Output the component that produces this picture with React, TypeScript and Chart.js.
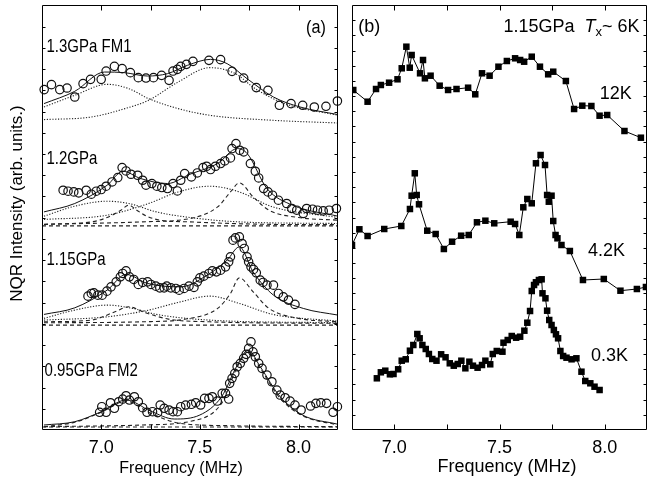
import React, { useEffect, useRef } from 'react';
import { Chart, registerables } from 'chart.js';

Chart.register(...registerables);

type P = [number, number];

// ---------------- axes ----------------
const freqTickValues = [7.0, 7.25, 7.5, 7.75, 8.0];
const freqTickLabels = ['7.0', '7.5', '8.0'];

// ---------------- data: panel (a) ----------------
const spec130: P[] = [
  [6.711, 340.7], [6.748, 345.7], [6.79, 340.7], [6.827, 342.3], [6.866, 333.3], [6.908, 346.7],
  [6.946, 351], [7.0, 351], [7.025, 359.3], [7.067, 364], [7.106, 361.7], [7.148, 357.7],
  [7.188, 352.7], [7.227, 352.3], [7.265, 352.7], [7.306, 355], [7.344, 350], [7.364, 359.3],
  [7.386, 361], [7.403, 364], [7.432, 366], [7.465, 369], [7.546, 370], [7.605, 370.7],
  [7.663, 359], [7.722, 352.3], [7.786, 342.7], [7.845, 340], [7.903, 325], [7.962, 326.7],
  [8.021, 325], [8.08, 323.3], [8.139, 324], [8.197, 329.3],
];
const fit130Sum: P[] = [
  [6.71, 326.7], [6.866, 339], [7.017, 358.3], [7.117, 357.7], [7.235, 354.3], [7.336, 356.7],
  [7.437, 365], [7.554, 371], [7.638, 366.7], [7.739, 351.7], [7.873, 333.3], [8.008, 323.3], [8.2, 315.7],
];
const fit130A: P[] = [
  [6.71, 323.3], [6.866, 335], [7.03, 346], [7.14, 341.7], [7.24, 331.7], [7.39, 321.7],
  [7.55, 315], [7.87, 310], [8.2, 307.3],
];
const fit130B: P[] = [
  [6.71, 310.7], [6.95, 313.3], [7.12, 321.7], [7.24, 330], [7.39, 348.3], [7.55, 362.7],
  [7.68, 356.7], [7.78, 341.7], [7.93, 326.7], [8.2, 315],
];

const spec120: P[] = [
  [6.807, 240], [6.832, 239], [6.861, 238.3], [6.886, 237.3], [6.924, 240], [6.95, 236],
  [6.975, 239], [7.0, 240.7], [7.025, 244], [7.055, 248.3], [7.084, 252.7], [7.106, 262.7],
  [7.126, 259.3], [7.151, 256], [7.185, 255], [7.21, 250], [7.227, 245], [7.257, 246.7],
  [7.282, 244], [7.307, 242.7], [7.336, 241.7], [7.364, 246.7], [7.386, 239.3], [7.403, 250],
  [7.423, 256.7], [7.457, 253.3], [7.487, 257.3], [7.516, 262.7], [7.534, 264], [7.554, 260.7],
  [7.579, 264], [7.605, 266.7], [7.626, 269.3], [7.655, 272.3], [7.663, 281.7], [7.683, 286.7],
  [7.702, 280], [7.722, 278.3], [7.756, 266.7], [7.781, 259], [7.798, 252.3], [7.823, 241.7],
  [7.845, 238.3], [7.868, 235], [7.898, 230], [7.94, 226.7], [7.966, 221.7], [7.991, 220],
  [8.024, 216.7], [8.041, 221.7], [8.071, 221], [8.096, 220], [8.125, 219.3], [8.155, 220], [8.192, 221.7],
];
const fit120Sum: P[] = [
  [6.71, 218.3], [6.866, 226.7], [7.03, 245], [7.11, 259], [7.2, 251.7], [7.336, 246.7],
  [7.45, 256], [7.59, 266.7], [7.69, 281.7], [7.74, 276.7], [7.84, 241.7], [7.97, 225], [8.2, 214],
];
const fit120DotA: P[] = [
  [6.71, 214], [6.866, 224], [7.03, 229], [7.14, 226.7], [7.28, 218.3], [7.45, 212.7], [7.7, 208.3], [8.2, 206.7],
];
const fit120DashA: P[] = [
  [6.71, 206], [6.95, 208.3], [7.03, 212.7], [7.1, 220], [7.14, 225], [7.18, 220], [7.23, 214],
  [7.3, 210], [7.45, 208.3], [7.8, 206], [8.2, 205.5],
];
const fit120DotB: P[] = [
  [6.71, 210.7], [7.03, 215], [7.24, 226.7], [7.39, 238.3], [7.55, 244], [7.7, 238.3], [7.87, 223.3], [8.2, 212.7],
];
const fit120DashB: P[] = [
  [6.71, 205.7], [7.2, 208.3], [7.45, 211.7], [7.59, 223.3], [7.655, 238.3], [7.7, 247.3],
  [7.77, 233.3], [7.85, 220], [8.0, 212.7], [8.2, 210],
];
const base120 = 204.3;

const spec115: P[] = [
  [6.933, 134], [6.95, 136.7], [6.963, 137.3], [6.983, 135], [7.005, 135], [7.029, 139],
  [7.05, 143.3], [7.076, 148.3], [7.097, 153.3], [7.109, 156.7], [7.126, 159.3], [7.143, 153.3],
  [7.165, 150.7], [7.188, 145.7], [7.21, 147.7], [7.235, 148.3], [7.252, 145.7], [7.277, 144],
  [7.297, 142.3], [7.319, 142.3], [7.332, 144], [7.353, 142.3], [7.378, 141.7], [7.395, 140],
  [7.42, 141.7], [7.445, 144], [7.47, 142.7], [7.487, 148.3], [7.5, 152.3], [7.52, 154],
  [7.546, 156.7], [7.563, 159.3], [7.584, 158.3], [7.605, 160], [7.63, 163.3], [7.646, 168.3],
  [7.655, 173.3], [7.668, 190], [7.68, 192.3], [7.7, 193.3], [7.714, 186.7], [7.725, 181.7],
  [7.739, 173.3], [7.747, 168.3], [7.759, 163.3], [7.772, 160.7], [7.786, 157.3], [7.806, 150],
  [7.82, 147.7], [7.84, 145], [7.873, 145], [7.898, 136.7], [7.923, 133.3], [7.949, 130], [7.982, 125.7],
];
const fit115Sum: P[] = [
  [6.71, 115.7], [6.866, 122.3], [7.03, 140], [7.126, 155.7], [7.235, 146.7], [7.403, 143.3],
  [7.537, 155], [7.638, 170], [7.7, 183.3], [7.77, 158.3], [7.873, 135], [8.024, 121.7], [8.2, 115],
];
const fit115DotA: P[] = [
  [6.71, 111.7], [6.866, 120], [7.03, 125], [7.16, 121.7], [7.28, 115.7], [7.55, 110], [8.2, 107.3],
];
const fit115DashA: P[] = [
  [6.71, 108.3], [6.95, 110], [7.07, 118.3], [7.14, 123.3], [7.22, 117.7], [7.34, 111], [7.55, 108.3], [8.2, 106.7],
];
const fit115DotB: P[] = [
  [6.71, 110], [7.03, 113.3], [7.24, 120], [7.39, 127.7], [7.55, 134], [7.7, 126.7], [7.87, 115.7], [8.2, 109],
];
const fit115DashB: P[] = [
  [6.71, 107.3], [7.2, 108.3], [7.45, 111.7], [7.59, 121.7], [7.655, 136.7], [7.7, 152.3],
  [7.77, 138.3], [7.85, 121.7], [8.0, 111.7], [8.2, 108.3],
];
const base115 = 105;

const spec095: P[] = [
  [6.992, 17.7], [7.003, 23.3], [7.025, 17.7], [7.047, 27.3], [7.067, 21.7], [7.089, 28.3],
  [7.109, 31], [7.126, 34.3], [7.143, 30], [7.168, 33.3], [7.188, 28.3], [7.21, 22.3],
  [7.232, 17.7], [7.26, 18.3], [7.286, 17.3], [7.299, 25], [7.319, 21.7], [7.344, 20],
  [7.364, 18.3], [7.386, 18.3], [7.403, 23.3], [7.428, 25], [7.457, 25.7], [7.479, 27.3],
  [7.504, 25], [7.524, 31.7], [7.546, 31.7], [7.563, 33.3], [7.588, 29], [7.613, 36.7],
  [7.63, 36.7], [7.646, 31], [7.651, 46.7], [7.663, 51.7], [7.677, 56.7], [7.689, 63.3],
  [7.705, 66.7], [7.722, 71.7], [7.735, 75.7], [7.747, 81.7], [7.759, 88.3], [7.769, 78.3],
  [7.781, 73.3], [7.798, 66.7], [7.815, 61.7], [7.84, 55], [7.865, 48.3], [7.89, 40],
  [7.907, 35], [7.932, 32.3], [7.957, 29], [7.982, 25], [8.013, 20], [8.061, 24],
  [8.088, 26.7], [8.113, 27.3], [8.142, 26.7], [8.175, 17.7], [8.197, 23.3],
];
const fit095Sum: P[] = [
  [6.71, 5], [6.866, 8.3], [7.0, 18.3], [7.126, 30], [7.25, 19], [7.37, 11], [7.5, 15],
  [7.61, 33.3], [7.69, 65], [7.745, 80], [7.806, 63.3], [7.907, 33.3], [8.02, 15], [8.2, 5.7],
];
const fit095DashA: P[] = [
  [6.71, 3.3], [6.866, 7.7], [7.0, 17.7], [7.126, 29], [7.25, 16.7], [7.4, 6.7], [7.65, 4.3], [8.2, 3.3],
];
const fit095DashB: P[] = [
  [6.71, 3.3], [7.21, 5], [7.46, 9], [7.61, 26.7], [7.69, 63.3], [7.745, 78.3],
  [7.806, 61.7], [7.907, 31.7], [8.02, 14.3], [8.2, 5],
];
const base095 = 3;

// ---------------- data: panel (b) ----------------
const temp12K: P[] = [
  [6.806, 340], [6.874, 328.3], [6.914, 341], [6.937, 345], [6.976, 347.3], [7.016, 350.7],
  [7.036, 361.7], [7.058, 383.3], [7.074, 362.3], [7.083, 375], [7.123, 356.7], [7.137, 370],
  [7.146, 351.7], [7.173, 354.3], [7.216, 344.3], [7.256, 340], [7.296, 341], [7.351, 342.3],
  [7.385, 335.7], [7.417, 356.7], [7.453, 354.3], [7.495, 363.3], [7.535, 369], [7.574, 371.7],
  [7.598, 370], [7.617, 368.3], [7.653, 373.3], [7.692, 363.3], [7.731, 355.7], [7.755, 358.3],
  [7.815, 349], [7.854, 321], [7.893, 324.3], [7.936, 324], [7.975, 314.3], [8.011, 315],
  [8.093, 299], [8.171, 292.3],
];
const temp4K: P[] = [
  [6.8, 185], [6.835, 200.7], [6.874, 194], [6.953, 201], [7.034, 204], [7.075, 221],
  [7.083, 234.3], [7.098, 256.7], [7.107, 235], [7.118, 225.7], [7.157, 199.3], [7.197, 196],
  [7.236, 181], [7.275, 188.3], [7.318, 194.3], [7.354, 195], [7.393, 207.7], [7.433, 209.3],
  [7.475, 206.7], [7.553, 208.3], [7.574, 206], [7.594, 195], [7.613, 222.7], [7.632, 231],
  [7.653, 226.7], [7.673, 266.7], [7.695, 275], [7.716, 265], [7.726, 235], [7.734, 228.3],
  [7.747, 234.3], [7.755, 209], [7.766, 195], [7.775, 191.7], [7.794, 185], [7.834, 179],
  [7.896, 150], [7.995, 151], [8.074, 139.3], [8.152, 141], [8.195, 143],
];
const temp03K: P[] = [
  [6.918, 51.7], [6.937, 57.7], [6.958, 59.3], [6.98, 55.7], [6.997, 56], [7.019, 60.7],
  [7.036, 69.3], [7.055, 70.7], [7.075, 79.3], [7.091, 85], [7.11, 96], [7.121, 91.7],
  [7.134, 85], [7.15, 81], [7.165, 76], [7.181, 71], [7.201, 69.3], [7.223, 75.7],
  [7.244, 72.7], [7.264, 66.7], [7.283, 64.3], [7.302, 66], [7.319, 69.3], [7.338, 61.7],
  [7.357, 68.3], [7.374, 64.3], [7.396, 62.3], [7.417, 65], [7.433, 69.3], [7.456, 65.7],
  [7.468, 76], [7.487, 79], [7.514, 78.3], [7.519, 87.3], [7.539, 90], [7.558, 94],
  [7.579, 92.3], [7.598, 93.3], [7.618, 99.3], [7.632, 107.3], [7.645, 119], [7.653, 139],
  [7.664, 145], [7.673, 147.7], [7.687, 150], [7.7, 150.7], [7.704, 136.7], [7.718, 131.7],
  [7.726, 119.3], [7.736, 110], [7.747, 105], [7.758, 100], [7.768, 95.7], [7.778, 91.7],
  [7.789, 79], [7.802, 74], [7.818, 72.3], [7.842, 70.7], [7.865, 71.7], [7.889, 58.3],
  [7.907, 49], [7.931, 46.7], [7.951, 43.3], [7.975, 40],
];

// ---------------- helpers ----------------
const SANS = "'Liberation Sans', Arial, Helvetica, sans-serif";

const pts = (a: P[]) => a.map(([x, y]) => ({ x, y }));
const flat = (y: number, x0: number, x1: number) => [{ x: x0, y }, { x: x1, y }];

const circles = (a: P[]) => ({
  data: pts(a), showLine: false, pointStyle: 'circle', pointRadius: 4.2, pointBorderWidth: 1.2,
  pointBorderColor: '#111', pointBackgroundColor: 'rgba(255,255,255,0)', clip: false,
});
const curve = (a: P[], kind: 'solid' | 'dot' | 'dash') => ({
  data: pts(a), pointRadius: 0, borderWidth: kind === 'solid' ? 1 : 1.1,
  borderColor: kind === 'solid' ? '#111' : '#222',
  borderDash: kind === 'solid' ? [] : kind === 'dot' ? [1.2, 1.6] : [4, 3],
  cubicInterpolationMode: 'monotone',
});
const squares = (a: P[]) => ({
  data: pts(a), showLine: true, borderColor: '#000', borderWidth: 1, tension: 0,
  pointStyle: 'rect', pointRadius: 4.6, pointBorderWidth: 0, pointBackgroundColor: '#000',
});

type Part = { t: string; font: string; dy?: number };
type Txt = { parts: Part[]; x: number; y: number; align?: 'left' | 'center' | 'right'; sx?: number };

const framePlugin = (yTick: number) => ({
  id: 'frame',
  afterDatasetsDraw(chart: any) {
    const { ctx, chartArea: a } = chart;
    const xs = chart.scales.x, ys = chart.scales.y;
    const L = Math.round(a.left) + 0.5, R = Math.round(a.right) - 0.5;
    const T = Math.round(a.top) + 0.5, B = Math.round(a.bottom) - 0.5;
    ctx.save();
    ctx.strokeStyle = '#000';
    ctx.lineWidth = 1;
    ctx.setLineDash([]);
    ctx.beginPath();
    ctx.rect(L, T, R - L, B - T);
    xs.ticks.forEach((t: any) => {
      const p = Math.round(xs.getPixelForValue(t.value)) + 0.5;
      if (p <= L + 1 || p >= R - 1) return;
      ctx.moveTo(p, B); ctx.lineTo(p, B - 5);
      ctx.moveTo(p, T); ctx.lineTo(p, T + 5);
    });
    ys.ticks.forEach((t: any) => {
      const p = Math.round(ys.getPixelForValue(t.value)) + 0.5;
      if (p <= T + 1 || p >= B - 1) return;
      ctx.moveTo(L, p); ctx.lineTo(L + yTick, p);
      ctx.moveTo(R, p); ctx.lineTo(R - yTick, p);
    });
    ctx.stroke();
    ctx.restore();
  },
});

const textPlugin = (items: Txt[]) => ({
  id: 'texts',
  afterDraw(chart: any) {
    const { ctx } = chart;
    const xs = chart.scales.x, ys = chart.scales.y;
    ctx.save();
    ctx.fillStyle = '#000';
    ctx.textBaseline = 'middle';
    ctx.textAlign = 'left';
    items.forEach((it) => {
      const sx = it.sx ?? 1;
      const widths = it.parts.map((p) => { ctx.font = p.font; return ctx.measureText(p.t).width * sx; });
      const total = widths.reduce((s, w) => s + w, 0);
      let x = xs.getPixelForValue(it.x);
      const y = ys.getPixelForValue(it.y);
      if (it.align === 'center') x -= total / 2;
      if (it.align === 'right') x -= total;
      it.parts.forEach((p, i) => {
        ctx.font = p.font;
        ctx.save();
        ctx.translate(x, y + (p.dy || 0));
        ctx.scale(sx, 1);
        ctx.fillText(p.t, 0, 0);
        ctx.restore();
        x += widths[i];
      });
    });
    ctx.restore();
  },
});

const tickCb = (v: any) => {
  const hit = freqTickLabels.find((l) => Math.abs(parseFloat(l) - Number(v)) < 1e-6);
  return hit ?? '';
};

function baseScales(xMin: number, yStep: number, yWidth: number, xTitle: string, xTitleSize: number, yTitle: boolean) {
  return {
    x: {
      type: 'linear', min: xMin, max: 8.2,
      afterBuildTicks: (s: any) => { s.ticks = freqTickValues.map((value) => ({ value })); },
      afterFit: (s: any) => { s.height = 53; },
      grid: { display: false, drawTicks: false },
      border: { display: false },
      ticks: {
        autoSkip: false, maxRotation: 0, padding: 7,
        color: '#000', font: { family: SANS, size: 18 }, callback: tickCb,
      },
      title: {
        display: true, text: xTitle, color: '#000', font: { family: SANS, size: xTitleSize },
        padding: { top: 0, bottom: 5 },
      },
    },
    y: {
      type: 'linear', min: 0, max: 425,
      afterFit: (s: any) => { s.width = yWidth; },
      grid: { display: false, drawTicks: false },
      border: { display: false },
      ticks: { stepSize: yStep, display: false },
      title: {
        display: yTitle, text: '      NQR Intensity (arb. units.)', color: '#000',
        font: { family: SANS, size: 17 }, padding: { top: 7, bottom: 0 },
      },
    },
  };
}

function PanelA() {
  const ref = useRef<HTMLCanvasElement>(null);
  useEffect(() => {
    const nf = `18.5px ${SANS}`;
    const chart = new Chart(ref.current as HTMLCanvasElement, {
      type: 'line',
      data: {
        datasets: [
          circles(spec130), circles(spec120), circles(spec115), circles(spec095),
          curve(fit130Sum, 'solid'), curve(fit130A, 'dot'), curve(fit130B, 'dot'),
          curve(fit120Sum, 'solid'), curve(fit120DotA, 'dot'), curve(fit120DashA, 'dash'),
          curve(fit120DotB, 'dot'), curve(fit120DashB, 'dash'),
          { ...curve([], 'dash'), data: flat(base120, 6.7, 8.2) },
          curve(fit115Sum, 'solid'), curve(fit115DotA, 'dot'), curve(fit115DashA, 'dash'),
          curve(fit115DotB, 'dot'), curve(fit115DashB, 'dash'),
          { ...curve([], 'dash'), data: flat(base115, 6.7, 8.2) },
          curve(fit095Sum, 'solid'), curve(fit095DashA, 'dash'), curve(fit095DashB, 'dash'),
          { ...curve([], 'dash'), data: flat(base095, 6.7, 8.2) },
        ] as any,
      },
      options: {
        animation: false, responsive: false, events: [],
        layout: { padding: { top: 5, right: 7, bottom: 0, left: 0 } },
        plugins: { legend: { display: false }, tooltip: { enabled: false } },
        scales: baseScales(6.7, 21.25, 42, 'Frequency (MHz)    ', 16, true) as any,
      },
      plugins: [
        framePlugin(3),
        textPlugin([
          { parts: [{ t: '(a)', font: `18px ${SANS}` }], x: 8.088, y: 402, align: 'center', sx: 0.9 },
          { parts: [{ t: '1.3GPa FM1', font: nf }], x: 6.723, y: 383.5, sx: 0.81 },
          { parts: [{ t: '1.2GPa', font: nf }], x: 6.723, y: 271.5, sx: 0.81 },
          { parts: [{ t: '1.15GPa', font: nf }], x: 6.723, y: 170, sx: 0.81 },
          { parts: [{ t: '0.95GPa FM2', font: nf }], x: 6.713, y: 59.5, sx: 0.81 },
        ]),
      ],
    });
    return () => chart.destroy();
  }, []);
  return <canvas ref={ref} width={345} height={483} style={{ position: 'absolute', left: 0, top: 0, width: 345, height: 483 }} />;
}

function PanelB() {
  const ref = useRef<HTMLCanvasElement>(null);
  useEffect(() => {
    const f = `18px ${SANS}`;
    const chart = new Chart(ref.current as HTMLCanvasElement, {
      type: 'line',
      data: { datasets: [squares(temp12K), squares(temp4K), squares(temp03K)] as any },
      options: {
        animation: false, responsive: false, events: [],
        layout: { padding: { top: 5, right: 8, bottom: 0, left: 0 } },
        plugins: { legend: { display: false }, tooltip: { enabled: false } },
        scales: baseScales(6.8, 425 / 28, 7, '   Frequency (MHz)', 18, false) as any,
      },
      plugins: [
        framePlugin(3),
        textPlugin([
          { parts: [{ t: '(b)', font: f }], x: 6.882, y: 403, align: 'center' },
          {
            parts: [
              { t: '1.15GPa  ', font: f },
              { t: 'T', font: `italic 18px ${SANS}` },
              { t: 'x', font: `13px ${SANS}`, dy: 5 },
              { t: '~ 6K', font: f },
            ],
            x: 8.165, y: 403, align: 'right',
          },
          { parts: [{ t: '12K', font: f }], x: 7.976, y: 336 },
          { parts: [{ t: '4.2K', font: f }], x: 7.92, y: 178.5 },
          { parts: [{ t: '0.3K', font: f }], x: 7.934, y: 73.5 },
        ]),
      ],
    });
    return () => chart.destroy();
  }, []);
  return <canvas ref={ref} width={310} height={483} style={{ position: 'absolute', left: 345, top: 0, width: 310, height: 483 }} />;
}

export default function App() {
  return (
    <div style={{ position: 'fixed', left: 0, top: 0, width: 655, height: 483, background: '#fff', overflow: 'hidden' }}>
      <PanelA />
      <PanelB />
    </div>
  );
}
